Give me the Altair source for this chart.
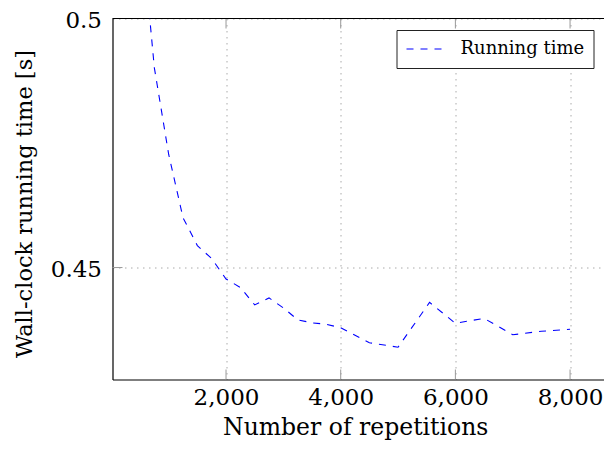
import altair as alt
import pandas as pd

# data
reps = [500, 750, 1000, 1250, 1500, 1750, 2000, 2250, 2500, 2750, 3000, 3250, 3500,
        3750, 4000, 4500, 5000, 5550, 6000, 6500, 7000, 7500, 8000]
times = [0.521, 0.4901, 0.4727, 0.4600, 0.4544, 0.4518, 0.4477, 0.4460, 0.4425, 0.4439,
         0.4419, 0.4395, 0.4389, 0.4386, 0.4379, 0.4349, 0.4340, 0.4430, 0.4388, 0.4398,
         0.4365, 0.4372, 0.4376]
series = ["Running time"] * len(reps)
x_ticks = [2000, 4000, 6000, 8000]
y_ticks = [0.45, 0.5]
x_domain = [20, 8592]
y_domain = [0.42752, 0.5]

W, H = 491.5, 361
TICK = 10
FONT = "DejaVu Serif"

df = pd.DataFrame({"reps": reps, "time": times, "series": series})
xt = pd.DataFrame({"v": x_ticks})
yt = pd.DataFrame({"v": y_ticks})
frame = pd.DataFrame({"v": [0]})

xscale = alt.Scale(domain=x_domain, nice=False, zero=False)
yscale = alt.Scale(domain=y_domain, nice=False, zero=False)

line = alt.Chart(df).mark_line(strokeDash=[7, 7], strokeWidth=1.1, clip=True).encode(
    x=alt.X("reps:Q", scale=xscale,
            axis=alt.Axis(values=x_ticks, format=",d", title="Number of repetitions",
                          grid=True, ticks=False, domain=True, labelPadding=7,
                          labelFont=FONT, labelFontSize=23, titleFont=FONT, titleFontSize=23.5,
                          titleX=W / 2 - 3, titleY=55, titleBaseline="alphabetic")),
    y=alt.Y("time:Q", scale=yscale,
            axis=alt.Axis(values=y_ticks, format="~g", title="Wall-clock running time [s]",
                          grid=True, ticks=False, domain=True, labelPadding=11, labelOffset=2,
                          labelFont=FONT, labelFontSize=23, titleFont=FONT, titleFontSize=22.5,
                          titleX=-81, titleY=185, titleBaseline="alphabetic")),
    color=alt.Color("series:N", scale=alt.Scale(domain=["Running time"], range=["#0000ff"]),
                    legend=alt.Legend(title=None, orient="none", legendX=284, legendY=11.5,
                                      symbolType="stroke", symbolDash=[7, 7],
                                      symbolStrokeWidth=1.1, symbolSize=1681, clipHeight=20,
                                      labelFont=FONT, labelFontSize=18, labelColor="black",
                                      fillColor="white", strokeColor="#222222",
                                      padding=9, labelOffset=12)),
)

top_line = alt.Chart(frame).mark_rule(color="black", strokeWidth=1.2).encode(
    x=alt.value(0), x2=alt.value(W), y=alt.value(0))

xb = alt.Chart(xt).mark_rule(color="#999999", strokeWidth=1).encode(
    x=alt.X("v:Q", scale=xscale), y=alt.value(H), y2=alt.value(H - TICK))
xtp = alt.Chart(xt).mark_rule(color="#999999", strokeWidth=1).encode(
    x=alt.X("v:Q", scale=xscale), y=alt.value(0), y2=alt.value(TICK))
yl = alt.Chart(yt).mark_rule(color="#999999", strokeWidth=1).encode(
    y=alt.Y("v:Q", scale=yscale), x=alt.value(0), x2=alt.value(TICK))

chart = alt.layer(xb, xtp, yl, top_line, line).properties(
    width=W, height=H,
    autosize=alt.AutoSizeParams(type="none"),
    padding={"left": 104.5, "top": 10.5, "right": 0, "bottom": 61.5},
).configure_view(
    stroke="transparent", strokeWidth=0
).configure_axis(
    labelColor="black", titleColor="black", titleFontWeight="normal",
    domainColor="black", domainWidth=1.2,
    gridColor="#aaaaaa", gridDash=[1.5, 4.5], gridWidth=1,
)

chart.save("out.html", embed_options={"renderer": "svg", "actions": False})
